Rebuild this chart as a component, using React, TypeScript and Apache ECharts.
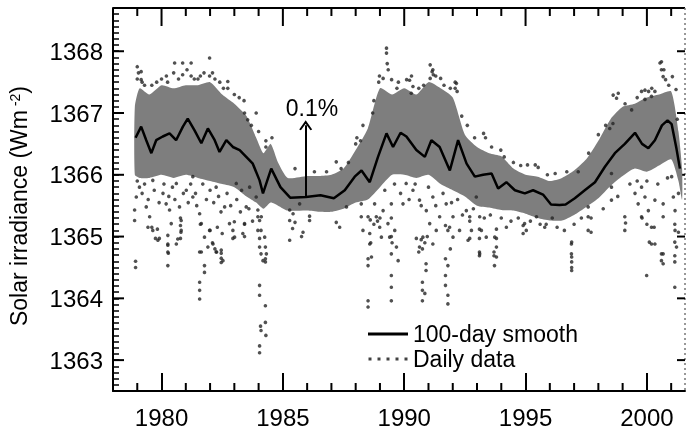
import React, { useEffect, useRef } from 'react';
import * as echarts from 'echarts';

// ---- tick labels ----
const xMajorTicks = [1980, 1985, 1990, 1995, 2000];
const xMinorTicks = [1979, 1981, 1982, 1983, 1984, 1986, 1987, 1988, 1989, 1991, 1992, 1993, 1994, 1996, 1997, 1998, 1999, 2001];
const yMajorTicks = [1363, 1364, 1365, 1366, 1367, 1368];

// ---- 100-day smooth ----
const smoothYears = [1978.93, 1979.16, 1979.37, 1979.58, 1979.78, 1980.05, 1980.33, 1980.6, 1980.88, 1981.08, 1981.36, 1981.64, 1981.91, 1982.19, 1982.39, 1982.67, 1982.94, 1983.22, 1983.49, 1983.76, 1984.04, 1984.18, 1984.52, 1984.9, 1985.3, 1985.95, 1986.55, 1987.1, 1987.55, 1987.96, 1988.24, 1988.58, 1988.92, 1989.27, 1989.54, 1989.85, 1990.09, 1990.5, 1990.85, 1991.12, 1991.46, 1991.88, 1992.22, 1992.57, 1992.91, 1993.25, 1993.6, 1993.87, 1994.21, 1994.56, 1994.97, 1995.31, 1995.72, 1996.05, 1996.4, 1996.65, 1997.03, 1997.44, 1997.86, 1998.27, 1998.68, 1999.09, 1999.51, 1999.8, 2000.06, 2000.33, 2000.62, 2000.85, 2001.02, 2001.22, 2001.36];
const smoothValues = [1366.6, 1366.78, 1366.56, 1366.35, 1366.56, 1366.62, 1366.67, 1366.56, 1366.78, 1366.91, 1366.72, 1366.51, 1366.75, 1366.56, 1366.37, 1366.56, 1366.45, 1366.4, 1366.29, 1366.18, 1365.91, 1365.7, 1366.1, 1365.8, 1365.63, 1365.64, 1365.67, 1365.62, 1365.75, 1365.97, 1366.07, 1365.88, 1366.29, 1366.67, 1366.45, 1366.68, 1366.62, 1366.4, 1366.29, 1366.56, 1366.45, 1366.07, 1366.56, 1366.18, 1365.97, 1366.0, 1366.02, 1365.78, 1365.88, 1365.75, 1365.7, 1365.75, 1365.68, 1365.52, 1365.51, 1365.52, 1365.62, 1365.75, 1365.88, 1366.13, 1366.35, 1366.5, 1366.68, 1366.5, 1366.43, 1366.56, 1366.8, 1366.88, 1366.82, 1366.42, 1366.1];

// ---- dense band of daily data (lower / upper envelope) ----
const bandYears = [1978.9, 1979.1, 1979.5, 1980.0, 1980.5, 1981.0, 1981.5, 1982.0, 1982.5, 1983.0, 1983.5, 1983.9, 1984.2, 1984.5, 1984.8, 1985.2, 1986.0, 1986.5, 1987.0, 1987.5, 1988.0, 1988.5, 1989.0, 1989.5, 1990.0, 1990.5, 1991.0, 1991.5, 1992.0, 1992.5, 1993.0, 1993.5, 1994.0, 1994.5, 1995.0, 1995.5, 1996.0, 1996.5, 1997.0, 1997.5, 1998.0, 1998.5, 1999.0, 1999.5, 2000.0, 2000.5, 2001.0, 2001.3, 2001.45];
const bandLow = [1366.0, 1365.95, 1365.95, 1366.0, 1365.95, 1366.0, 1365.95, 1365.9, 1365.85, 1365.8, 1365.65, 1365.55, 1365.45, 1365.55, 1365.5, 1365.42, 1365.42, 1365.4, 1365.4, 1365.45, 1365.55, 1365.6, 1365.8, 1366.0, 1366.0, 1365.95, 1366.0, 1365.85, 1365.75, 1365.65, 1365.5, 1365.47, 1365.43, 1365.42, 1365.37, 1365.3, 1365.26, 1365.26, 1365.35, 1365.48, 1365.62, 1365.82, 1365.98, 1366.1, 1366.05, 1366.15, 1366.25, 1365.9, 1365.6];
const bandHigh = [1367.1, 1367.4, 1367.3, 1367.45, 1367.4, 1367.45, 1367.45, 1367.5, 1367.3, 1367.15, 1366.95, 1366.6, 1366.35, 1366.5, 1366.2, 1365.95, 1365.98, 1365.98, 1366.0, 1366.1, 1366.4, 1366.75, 1367.4, 1367.3, 1367.4, 1367.3, 1367.5, 1367.4, 1367.25, 1366.65, 1366.45, 1366.35, 1366.3, 1366.1, 1366.0, 1365.97, 1365.9, 1365.95, 1366.07, 1366.25, 1366.55, 1366.9, 1367.1, 1367.15, 1367.25, 1367.3, 1367.35, 1366.7, 1366.1];

// ---- individual daily points (year, W m-2) ----
const dailyData: [number, number][] = [
  [1979.0, 1367.55], [1979.0, 1367.75], [1979.05, 1367.65], [1979.16, 1367.67], [1979.16, 1367.54], [1979.2, 1367.5], [1979.6, 1367.45],
  [1980.2, 1367.6], [1980.25, 1367.5], [1980.54, 1367.81], [1980.5, 1367.65], [1980.7, 1367.55], [1980.87, 1367.81], [1980.87, 1367.62], [1981.05, 1367.7], [1981.22, 1367.81], [1981.22, 1367.6], [1981.5, 1367.55], [1981.75, 1367.65], [1981.98, 1367.89], [1981.98, 1367.6], [1982.1, 1367.65], [1982.2, 1367.55], [1982.4, 1367.5], [1982.73, 1367.51], [1982.73, 1367.4], [1983.0, 1367.3], [1983.42, 1367.0], [1983.4, 1367.2], [1983.55, 1366.89], [1983.9, 1367.0],
  [1984.3, 1366.55], [1984.3, 1366.45], [1984.55, 1366.6], [1985.5, 1366.1], [1986.3, 1366.05], [1987.2, 1366.21], [1987.4, 1366.1], [1988.0, 1366.5], [1988.05, 1366.6], [1988.3, 1366.8], [1988.7, 1367.0], [1988.75, 1367.2], [1988.95, 1367.5], [1988.98, 1367.6],
  [1989.13, 1367.56], [1989.27, 1368.05], [1989.27, 1367.97], [1989.3, 1367.8], [1989.34, 1367.7], [1989.48, 1367.54], [1989.76, 1367.5], [1990.1, 1367.54], [1990.22, 1367.53], [1990.29, 1367.32], [1990.3, 1367.6], [1990.36, 1367.43], [1991.07, 1367.78], [1991.15, 1367.67], [1991.07, 1367.56], [1991.18, 1367.7], [1991.2, 1367.62], [1991.5, 1367.56], [1991.64, 1367.45], [1992.1, 1367.5], [1992.1, 1367.4], [1992.15, 1367.48], [1992.18, 1367.35], [1992.37, 1366.95], [1993.27, 1366.67], [1993.35, 1366.6], [1993.98, 1366.4], [1994.12, 1366.29], [1995.08, 1366.16], [1995.4, 1366.16], [1995.52, 1366.12], [1996.22, 1366.02], [1997.17, 1366.05],
  [1998.47, 1366.75], [1998.6, 1366.83], [1998.61, 1367.29], [1998.75, 1367.24], [1998.82, 1367.32], [1999.37, 1367.05], [1999.78, 1367.35], [1999.92, 1367.37], [1999.92, 1367.22], [2000.07, 1367.35], [2000.19, 1367.27], [2000.33, 1367.35], [2000.54, 1367.81], [2000.6, 1367.83], [2000.6, 1367.7], [2000.7, 1367.7], [2000.67, 1367.59], [2000.77, 1367.54], [2001.05, 1367.59], [2001.2, 1367.38],
  [1979.3, 1367.45], [1979.8, 1367.5], [1980.0, 1367.55], [1981.35, 1367.55], [1981.6, 1367.6], [1982.55, 1367.4], [1983.2, 1367.25], [1983.7, 1366.8], [1984.0, 1366.7], [1986.8, 1366.05], [1987.7, 1366.2], [1988.2, 1366.55], [1989.7, 1367.4], [1990.6, 1367.4], [1990.8, 1367.45], [1991.3, 1367.6], [1991.9, 1367.4], [1992.6, 1366.8], [1992.9, 1366.6], [1993.6, 1366.45], [1994.5, 1366.2], [1994.8, 1366.15], [1995.9, 1366.0], [1996.7, 1366.05], [1997.6, 1366.35], [1998.0, 1366.65], [1998.3, 1366.8], [1999.1, 1367.15], [1999.6, 1367.25], [2000.2, 1367.4], [2000.9, 1367.45], [2001.25, 1366.9],
  [1978.89, 1365.43], [1978.89, 1365.26], [1978.96, 1365.64], [1979.09, 1365.8], [1979.37, 1365.48], [1979.51, 1365.32], [1979.44, 1365.15], [1979.64, 1365.1], [1979.85, 1364.94], [1980.06, 1365.7], [1980.19, 1365.53], [1980.33, 1365.43], [1980.4, 1365.21], [1980.26, 1364.88], [1980.26, 1364.75], [1980.74, 1365.48], [1980.81, 1365.26], [1980.81, 1365.1], [1980.67, 1364.96], [1980.61, 1364.88], [1981.02, 1365.75], [1981.29, 1365.64], [1981.57, 1365.37], [1981.64, 1365.21], [1981.64, 1364.75], [1981.77, 1364.99], [1981.98, 1365.1], [1981.91, 1364.83], [1982.12, 1364.88], [1982.25, 1364.75], [1982.46, 1364.78], [1982.53, 1364.61], [1982.6, 1365.48], [1982.8, 1365.21], [1982.94, 1365.1], [1983.01, 1364.99], [1983.35, 1365.05], [1983.42, 1365.21], [1983.49, 1365.48], [1983.63, 1365.8], [1983.9, 1365.64], [1983.97, 1365.32],
  [1979.64, 1365.91], [1980.61, 1365.86], [1981.29, 1365.97], [1982.25, 1365.8], [1983.08, 1365.86],
  [1979.0, 1365.9], [1979.2, 1365.7], [1979.3, 1365.85], [1979.45, 1365.6], [1979.7, 1365.75], [1979.9, 1365.55], [1980.1, 1365.85], [1980.3, 1365.65], [1980.45, 1365.8], [1980.55, 1365.6], [1980.9, 1365.7], [1981.1, 1365.55], [1981.2, 1365.85], [1981.4, 1365.7], [1981.45, 1365.5], [1981.7, 1365.85], [1981.85, 1365.6], [1982.0, 1365.75], [1982.15, 1365.55], [1982.35, 1365.65], [1982.45, 1365.4], [1982.7, 1365.7], [1982.85, 1365.5], [1983.1, 1365.6], [1983.25, 1365.4], [1983.3, 1365.75], [1983.6, 1365.45], [1983.75, 1365.25],
  [1978.93, 1364.6], [1978.93, 1364.5], [1979.6, 1365.15], [1979.83, 1365.12], [1979.75, 1364.97], [1979.91, 1364.97], [1980.26, 1365.02], [1980.26, 1364.86], [1980.28, 1364.73], [1980.26, 1364.53], [1980.78, 1365.3], [1980.78, 1365.18], [1980.8, 1365.07], [1980.78, 1364.97], [1981.57, 1364.75], [1981.57, 1364.26], [1981.57, 1364.13], [1981.57, 1363.99], [1981.77, 1364.53], [1981.77, 1364.42], [1981.6, 1365.2], [1982.0, 1365.1], [1982.3, 1365.15], [1982.5, 1365.05], [1982.1, 1364.9], [1982.2, 1364.8], [1982.27, 1364.75], [1982.46, 1364.73], [1982.46, 1364.65], [1982.46, 1364.58], [1982.94, 1364.97], [1983.0, 1365.24], [1983.42, 1365.2], [1983.42, 1365.0],
  [1984.04, 1365.26], [1984.04, 1364.97], [1984.04, 1364.21], [1984.04, 1364.05], [1984.04, 1363.23], [1984.04, 1363.12], [1984.1, 1365.1], [1984.1, 1364.72], [1984.1, 1363.48], [1984.08, 1363.55], [1984.28, 1364.83], [1984.28, 1364.64], [1984.28, 1364.59], [1984.28, 1363.88], [1984.28, 1363.61], [1984.3, 1363.4],
  [1983.97, 1365.43], [1984.11, 1365.32], [1983.97, 1365.1], [1984.25, 1364.99], [1984.04, 1364.83], [1984.32, 1364.72], [1984.18, 1364.61], [1985.28, 1365.43], [1985.28, 1365.26], [1985.42, 1365.37], [1985.28, 1364.94], [1985.83, 1365.07], [1986.1, 1365.26], [1985.69, 1365.53], [1987.34, 1365.15], [1987.62, 1365.48], [1988.23, 1365.53], [1988.23, 1365.32], [1988.3, 1365.1], [1988.51, 1365.32], [1988.58, 1365.05], [1988.58, 1364.88], [1988.65, 1364.67], [1988.78, 1365.53], [1988.85, 1365.32], [1988.99, 1365.15], [1989.06, 1364.99], [1989.13, 1365.42], [1989.33, 1365.21], [1989.4, 1364.99], [1989.61, 1365.1], [1989.68, 1364.83], [1989.75, 1364.61], [1989.47, 1365.53],
  [1985.4, 1365.13], [1985.5, 1365.23], [1985.77, 1365.0], [1986.1, 1365.33], [1987.2, 1365.23],
  [1988.51, 1364.64], [1988.51, 1364.53], [1988.51, 1363.96], [1988.51, 1363.86], [1988.6, 1365.27], [1988.62, 1364.9], [1988.75, 1365.2], [1988.9, 1365.25], [1989.0, 1365.3], [1989.47, 1365.3], [1989.47, 1365.0], [1989.5, 1364.9], [1989.47, 1364.72], [1989.47, 1364.37], [1989.47, 1364.18], [1989.47, 1363.96],
  [1990.5, 1364.97], [1990.6, 1364.75], [1990.7, 1364.95], [1990.75, 1364.8], [1990.85, 1364.9], [1990.95, 1365.0], [1990.9, 1364.56], [1990.75, 1364.26], [1990.75, 1364.13], [1990.75, 1363.96], [1990.85, 1364.08], [1990.9, 1364.45],
  [1991.7, 1365.18], [1991.7, 1364.64], [1991.7, 1364.37], [1991.7, 1364.21], [1991.8, 1365.1], [1991.8, 1364.53], [1991.8, 1364.05], [1991.8, 1363.91], [1991.9, 1364.8],
  [1992.7, 1365.25], [1992.7, 1364.97], [1993.1, 1365.12], [1993.1, 1364.97], [1993.1, 1364.75], [1993.1, 1364.69], [1993.7, 1364.75], [1993.7, 1364.69], [1993.72, 1364.53], [1993.8, 1365.12], [1993.8, 1364.97],
  [1990.08, 1365.86], [1989.95, 1365.53], [1990.36, 1365.75], [1990.63, 1365.59], [1990.91, 1365.42], [1991.18, 1365.64], [1991.05, 1365.21], [1990.77, 1364.99], [1990.63, 1364.83], [1991.18, 1364.88], [1991.32, 1365.1], [1991.46, 1365.32], [1991.73, 1365.53], [1991.87, 1365.15], [1992.01, 1365.32], [1992.01, 1364.99], [1992.28, 1365.1], [1992.56, 1365.42], [1992.7, 1365.32], [1992.77, 1365.1], [1992.63, 1364.94], [1992.97, 1365.64], [1993.11, 1365.32], [1993.18, 1365.1], [1993.11, 1364.72], [1993.38, 1364.99], [1993.73, 1364.99], [1993.8, 1364.83], [1993.8, 1364.67], [1994.21, 1365.15], [1994.96, 1365.21], [1995.03, 1365.1], [1995.45, 1365.32], [1995.79, 1365.15],
  [1989.2, 1365.75], [1989.6, 1365.85], [1989.85, 1365.7], [1990.2, 1365.6], [1990.45, 1365.85], [1990.7, 1365.5], [1991.0, 1365.8], [1991.3, 1365.5], [1991.6, 1365.7], [1991.95, 1365.55], [1992.2, 1365.6], [1992.4, 1365.35], [1992.85, 1365.45], [1993.3, 1365.3], [1993.55, 1365.35], [1994.0, 1365.3], [1994.4, 1365.25], [1994.7, 1365.3], [1995.2, 1365.25], [1995.6, 1365.2], [1996.3, 1365.15], [1996.6, 1365.1], [1997.0, 1365.2], [1997.3, 1365.3],
  [1994.9, 1365.18], [1994.9, 1365.05], [1995.85, 1365.2], [1996.1, 1365.3],
  [1997.58, 1365.48], [1997.58, 1365.32], [1997.58, 1365.1], [1996.89, 1364.88], [1996.89, 1364.72], [1996.9, 1364.91], [1996.9, 1364.67], [1996.9, 1364.59], [1996.9, 1364.5], [1996.9, 1364.45], [1997.7, 1365.3], [1997.7, 1365.07],
  [1998.2, 1365.45], [1998.8, 1365.65], [1999.3, 1365.85], [1999.6, 1365.9], [2000.0, 1365.9], [2000.45, 1365.85], [2000.85, 1365.95], [2001.3, 1365.7],
  [1998.54, 1366.02], [1998.54, 1365.8], [1998.54, 1365.59], [1999.09, 1365.32], [1999.09, 1365.1], [1999.12, 1365.22], [1999.51, 1365.7], [1999.64, 1365.53], [1999.78, 1365.8], [1999.92, 1365.64], [2000.06, 1365.42], [1999.78, 1365.32], [2000.19, 1365.15], [2000.33, 1365.59], [2000.19, 1364.88], [2000.33, 1364.88], [2000.67, 1365.53], [2000.67, 1365.32], [2001.02, 1365.97], [2001.09, 1365.64], [2001.16, 1365.42], [2001.16, 1365.1], [2001.22, 1364.83], [2000.6, 1364.72], [2000.6, 1364.61],
  [1999.99, 1364.37], [2000.1, 1364.91], [2000.67, 1364.72], [2000.67, 1364.56], [2001.15, 1364.91], [2001.15, 1364.69], [2001.15, 1364.59], [2001.15, 1364.18], [1999.8, 1365.3], [2000.0, 1365.2], [2000.3, 1365.15], [2001.15, 1365.2], [2001.3, 1365.07],
];

// 0.1% arrow (year, bottom, top) and its label position
const arrowYear = 1985.94;
const arrowFrom = 1365.64;
const arrowTo = 1366.8;
const arrowLabel = '0.1%';
const arrowLabelPos: [number, number] = [1986.2, 1367.08];

const FONT = '"Liberation Sans", Arial, Helvetica, sans-serif';
const X_MIN = 1978;
const X_MAX = 2001.57;
const Y_MIN = 1362.5;
const Y_MAX = 1368.7;

export default function App() {
  const ref = useRef<HTMLDivElement>(null);

  useEffect(() => {
    if (!ref.current) return;
    const chart = echarts.init(ref.current, undefined, { renderer: 'svg' });

    const fmt = (v: number) => String(v);

    const option: any = {
      animation: false,
      grid: { left: 113, right: 4, top: 8, bottom: 40 },
      xAxis: {
        type: 'value',
        min: X_MIN,
        max: X_MAX,
        axisLine: { show: true, onZero: false, lineStyle: { color: '#000', width: 2 } },
        axisTick: { show: true, inside: true, length: 18, customValues: xMajorTicks, lineStyle: { color: '#000', width: 2 } },
        axisLabel: { show: true, customValues: xMajorTicks, formatter: fmt, fontSize: 24, color: '#000', fontFamily: FONT, margin: 14 },
        splitLine: { show: false },
      },
      yAxis: {
        type: 'value',
        min: Y_MIN,
        max: Y_MAX,
        interval: 0.1,
        axisLine: { show: true, onZero: false, lineStyle: { color: '#000', width: 2 } },
        axisTick: { show: true, inside: true, length: 6, lineStyle: { color: '#000', width: 1.5 } },
        axisLabel: { show: true, customValues: yMajorTicks, formatter: fmt, fontSize: 24, color: '#000', fontFamily: FONT, margin: 10 },
        splitLine: { show: false },
      },
      legend: {
        orient: 'vertical',
        left: 363,
        top: 317,
        itemWidth: 40,
        itemHeight: 3,
        itemGap: 1,
        textStyle: { fontSize: 23, color: '#000', fontFamily: FONT, lineHeight: 24 },
        data: [
          { name: '100-day smooth', icon: 'rect', itemStyle: { color: '#000' } },
          {
            name: 'Daily data',
            icon: 'path://M0,0h3v3h-3zM9,0h3v3h-3zM18,0h3v3h-3zM27,0h3v3h-3zM36,0h3v3h-3z',
            itemStyle: { color: '#111' },
          },
        ],
      },
      series: [
        {
          name: 'band',
          type: 'custom',
          z: 1,
          data: bandYears.map((y, i) => [y, bandLow[i], bandHigh[i]]),
          encode: { x: 0, y: [1, 2] },
          renderItem: (params: any, api: any) => {
            if (params.dataIndex !== 0) return null;
            const upper = bandYears.map((y, i) => api.coord([y, bandHigh[i]]));
            const lower = bandYears.map((y, i) => api.coord([y, bandLow[i]])).reverse();
            return {
              type: 'polygon',
              shape: { points: upper.concat(lower), smooth: 0.2 },
              style: { fill: '#7e7e7e' },
            };
          },
        },
        {
          name: 'Daily data',
          type: 'scatter',
          z: 2,
          symbol: 'circle',
          symbolSize: 3.6,
          itemStyle: { color: '#262626' },
          data: dailyData,
        },
        {
          name: '100-day smooth',
          type: 'line',
          z: 3,
          showSymbol: false,
          symbol: 'none',
          lineStyle: { color: '#000', width: 2.5 },
          data: smoothYears.map((y, i) => [y, smoothValues[i]]),
          markLine: {
            silent: true,
            symbol: ['none', 'path://M0,10 L6,0 L12,10 L10.4,11 L6,3.6 L1.6,11 Z'],
            symbolSize: [13, 10],
            label: { show: false },
            lineStyle: { color: '#000', width: 2, type: 'solid' },
            data: [[{ coord: [arrowYear, arrowFrom] }, { coord: [arrowYear, arrowTo] }]],
          },
          markPoint: {
            silent: true,
            symbol: 'circle',
            symbolSize: 1,
            itemStyle: { color: 'rgba(0,0,0,0)' },
            label: { show: true, position: 'inside', formatter: arrowLabel, fontSize: 23, color: '#000', fontFamily: FONT },
            data: [{ coord: arrowLabelPos }],
          },
        },
      ],
    };

    chart.setOption(option);

    // remaining spines and tick marks, placed through the chart's own scales
    const px = (x: number, y: number): number[] =>
      chart.convertToPixel({ xAxisIndex: 0, yAxisIndex: 0 }, [x, y]) as number[];
    const elements: any[] = [];
    const seg = (x1: number, y1: number, x2: number, y2: number, w: number, color = '#000', dash?: number[]) => {
      const style: any = { stroke: color, lineWidth: w };
      if (dash) style.lineDash = dash;
      elements.push({ type: 'line', shape: { x1, y1, x2, y2 }, style });
    };
    const tl = px(X_MIN, Y_MAX);
    const tr = px(X_MAX, Y_MAX);
    const br = px(X_MAX, Y_MIN);
    seg(tl[0], tl[1], tr[0], tr[1], 2);
    seg(tr[0], tr[1], br[0], br[1], 1.5, '#777', [2, 3]);
    xMajorTicks.forEach((v) => {
      const t = px(v, Y_MAX);
      seg(t[0], t[1], t[0], t[1] + 18, 2);
    });
    xMinorTicks.forEach((v) => {
      const b = px(v, Y_MIN);
      const t = px(v, Y_MAX);
      seg(b[0], b[1], b[0], b[1] - 8, 2);
      seg(t[0], t[1], t[0], t[1] + 8, 2);
    });
    yMajorTicks.forEach((v) => {
      const l = px(X_MIN, v);
      const r = px(X_MAX, v);
      seg(l[0], l[1], l[0] + 11, l[1], 2);
      seg(r[0], r[1], r[0] - 8, r[1], 2);
    });
    elements.push({
      type: 'text',
      x: 19,
      y: 206,
      rotation: Math.PI / 2,
      style: {
        text: '{t|Solar irradiance (Wm}{s|-2}{t|)}',
        align: 'center',
        verticalAlign: 'middle',
        rich: {
          t: { fontSize: 23, fontFamily: FONT, fill: '#000' },
          s: { fontSize: 14, fontFamily: FONT, fill: '#000', verticalAlign: 'top', padding: [0, 0, 0, 4] },
        },
      },
    });
    chart.setOption({ graphic: { elements } });

    return () => chart.dispose();
  }, []);

  return <div ref={ref} style={{ position: 'fixed', left: 0, top: 0, width: 689, height: 431 }} />;
}
